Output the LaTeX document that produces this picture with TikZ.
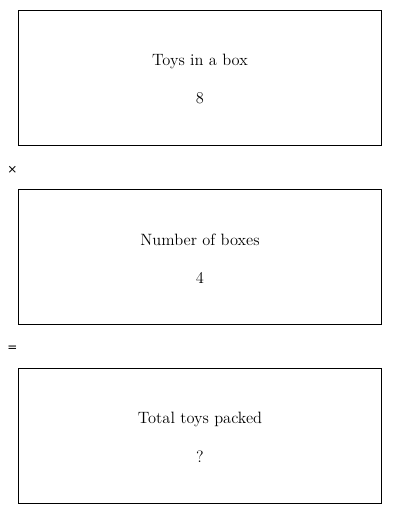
\documentclass[tikz,border=0pt]{standalone}
\usepackage{fontspec}
\newfontfamily\symfont{DejaVu Sans}
\begin{document}
\begin{tikzpicture}[x=0.75pt,y=-0.75pt,
  boxst/.style={draw=black,line width=0.75pt},
  lbl/.style={font=\fontsize{12.3}{15}\selectfont,inner sep=0pt},
  opst/.style={font=\symfont\fontsize{9}{11}\selectfont,inner sep=0pt}]
\useasboundingbox (0,0) rectangle (400,514);
\draw[boxst] (18.5,10.5) rectangle (381.5,145.5);
\draw[boxst] (18.5,189.5) rectangle (381.5,324.5);
\draw[boxst] (18.5,368.5) rectangle (381.5,503.5);
\node[lbl] (t1) at (200,61) {Toys in a box};
\node[lbl] (v1) at (200,98.5) {8};
\node[lbl] (t2) at (200,240) {Number of boxes};
\node[lbl] (v2) at (200,277.5) {4};
\node[lbl] (t3) at (200,419) {Total toys packed};
\node[lbl] (v3) at (200,456.5) {?};
\node[opst] (op1) at (12.5,170) {×};
\node[opst] (op2) at (12.5,349) {=};
\end{tikzpicture}
\end{document}
